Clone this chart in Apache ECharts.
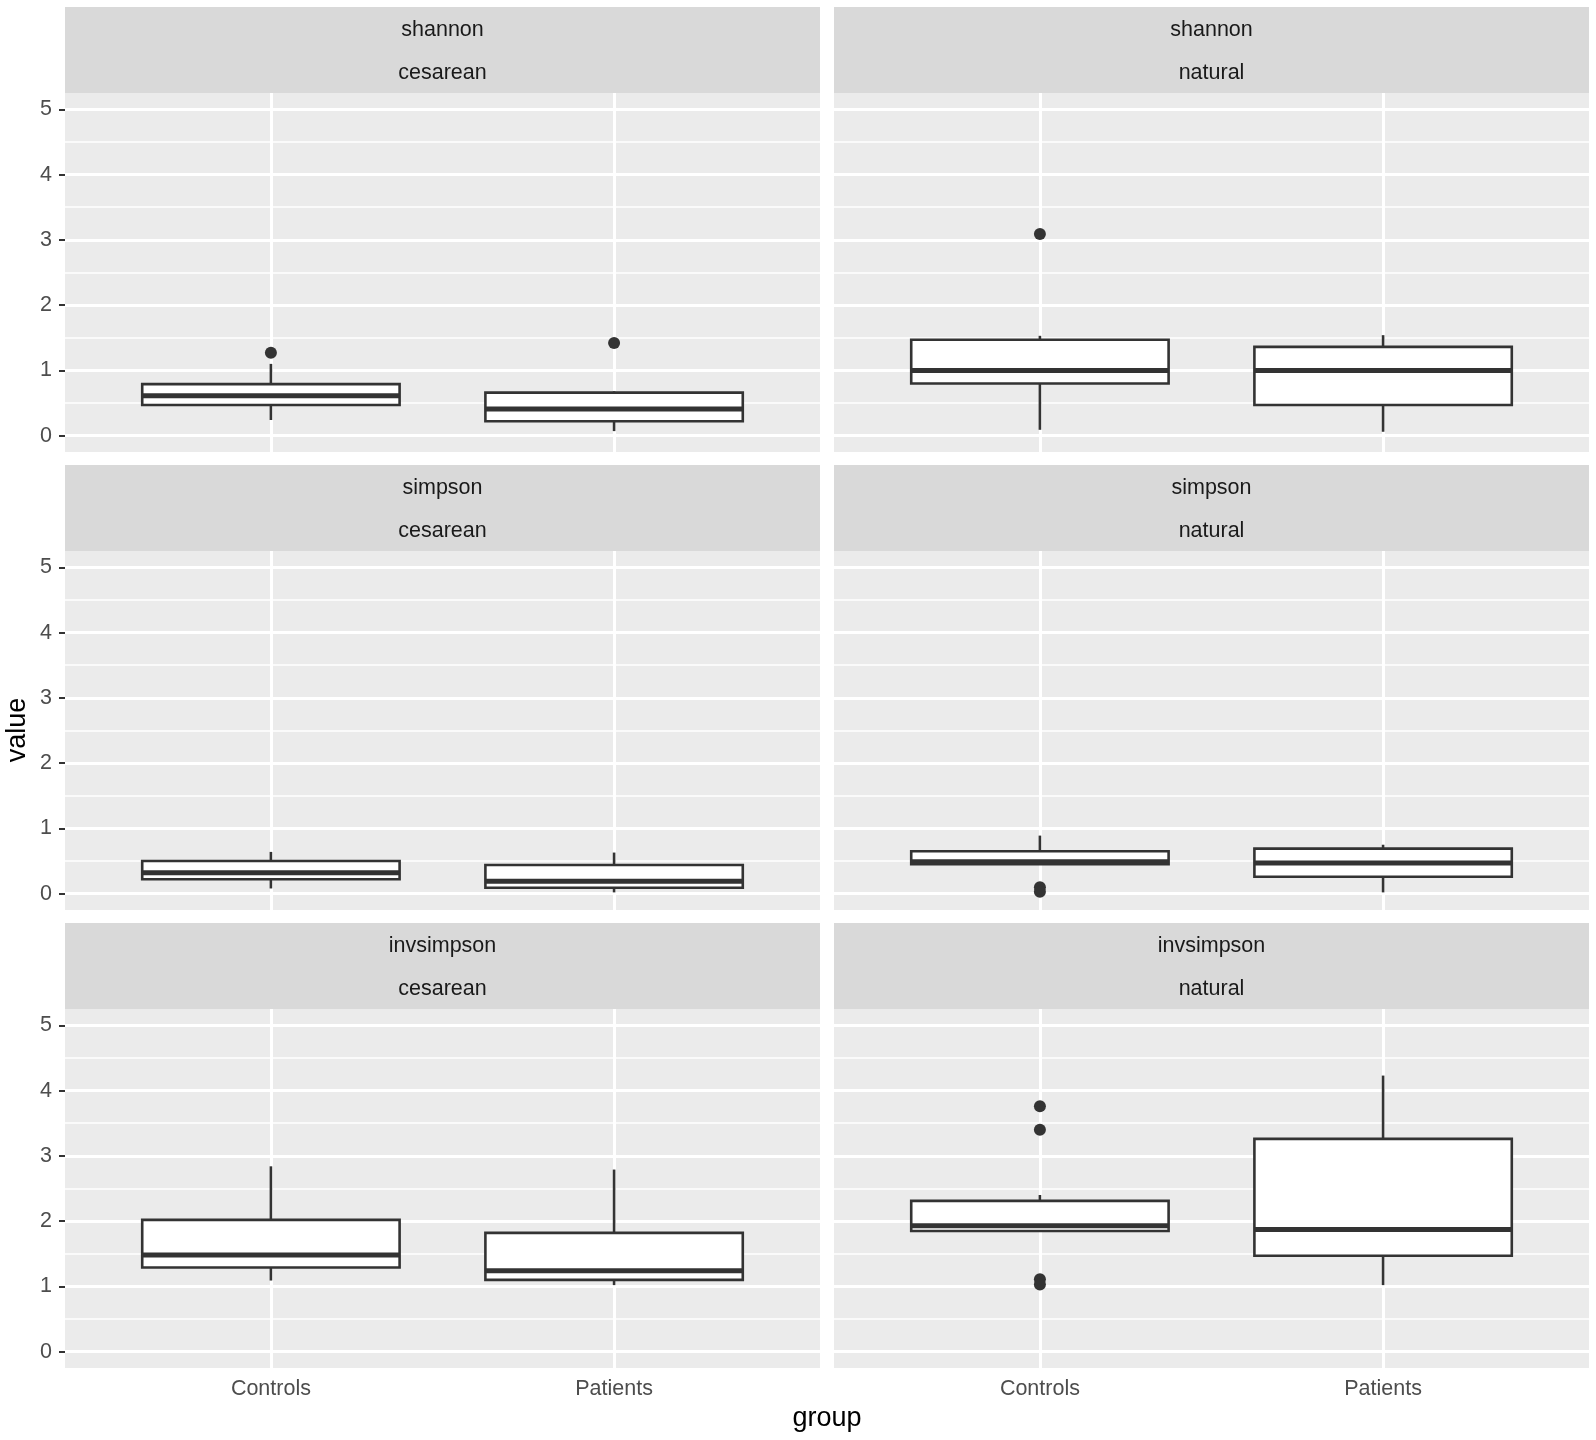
<!DOCTYPE html>
<html>
<head>
<meta charset="utf-8">
<title>alpha diversity</title>
<script src="https://cdn.jsdelivr.net/npm/echarts@6/dist/echarts.min.js"></script>
<style>
html, body { margin: 0; padding: 0; background: #fff; }
#main { width: 1596px; height: 1440px; }
</style>
</head>
<body>
<div id="main"></div>
<script>
// facet labels and categories
var metrics = ['shannon', 'simpson', 'invsimpson'];
var births = ['cesarean', 'natural'];
var groups = ['Controls', 'Patients'];
var yTicks = [0, 1, 2, 3, 4, 5];
var yMinorTicks = [0.5, 1.5, 2.5, 3.5, 4.5];

// box stats: [lower whisker, Q1, median, Q3, upper whisker], Controls then Patients
var shannonCesarean = [[0.24, 0.47, 0.61, 0.79, 1.10], [0.07, 0.22, 0.41, 0.66, 0.68]];
var shannonNatural = [[0.09, 0.80, 1.00, 1.47, 1.53], [0.06, 0.47, 1.00, 1.36, 1.54]];
var simpsonCesarean = [[0.08, 0.22, 0.32, 0.50, 0.64], [0.02, 0.09, 0.19, 0.44, 0.63]];
var simpsonNatural = [[0.45, 0.45, 0.49, 0.65, 0.89], [0.02, 0.26, 0.47, 0.69, 0.75]];
var invsimpsonCesarean = [[1.09, 1.29, 1.48, 2.02, 2.84], [1.02, 1.10, 1.24, 1.82, 2.79]];
var invsimpsonNatural = [[1.85, 1.85, 1.93, 2.31, 2.40], [1.02, 1.47, 1.87, 3.26, 4.23]];

// outliers, Controls then Patients
var shannonCesareanOut = [[1.27], [1.42]];
var shannonNaturalOut = [[3.09], []];
var simpsonCesareanOut = [[], []];
var simpsonNaturalOut = [[0.10, 0.03], []];
var invsimpsonCesareanOut = [[], []];
var invsimpsonNaturalOut = [[3.76, 3.40, 1.11, 1.03], []];

var panels = [
    { row: 0, col: 0, box: shannonCesarean, out: shannonCesareanOut },
    { row: 0, col: 1, box: shannonNatural, out: shannonNaturalOut },
    { row: 1, col: 0, box: simpsonCesarean, out: simpsonCesareanOut },
    { row: 1, col: 1, box: simpsonNatural, out: simpsonNaturalOut },
    { row: 2, col: 0, box: invsimpsonCesarean, out: invsimpsonCesareanOut },
    { row: 2, col: 1, box: invsimpsonNatural, out: invsimpsonNaturalOut }
];

var FONT = '"Liberation Sans", Arial, Helvetica, sans-serif';
var colLeft = [65, 834];
var panelW = 755;
var rowTop = [7, 465, 923];
var stripH = 43;
var panelH = 359;
var boxWidth = 0.75;

var chart = echarts.init(document.getElementById('main'));

// draws one ggplot style box (no whisker caps, thick median)
function renderBox(params, api) {
    var x = api.value(0);
    var lo = api.coord([x, api.value(1)]);
    var q1 = api.coord([x, api.value(2)]);
    var md = api.coord([x, api.value(3)]);
    var q3 = api.coord([x, api.value(4)]);
    var hi = api.coord([x, api.value(5)]);
    var w = api.size([boxWidth, 0])[0];
    var line = { stroke: '#333333', lineWidth: 2.6 };
    return {
        type: 'group',
        children: [
            { type: 'line', shape: { x1: hi[0], y1: hi[1], x2: q3[0], y2: q3[1] }, style: line },
            { type: 'line', shape: { x1: q1[0], y1: q1[1], x2: lo[0], y2: lo[1] }, style: line },
            { type: 'rect', shape: { x: q3[0] - w / 2, y: q3[1], width: w, height: q1[1] - q3[1] },
              style: { fill: '#ffffff', stroke: '#333333', lineWidth: 2.6 } },
            { type: 'line', shape: { x1: md[0] - w / 2, y1: md[1], x2: md[0] + w / 2, y2: md[1] },
              style: { stroke: '#333333', lineWidth: 5 } }
        ]
    };
}

var grids = [], xAxes = [], yAxes = [], series = [], graphics = [];

panels.forEach(function (p, i) {
    var left = colLeft[p.col];
    var top = rowTop[p.row] + stripH * 2;
    var bottomRow = p.row === 2;
    var leftCol = p.col === 0;

    grids.push({
        left: left, top: top, width: panelW, height: panelH,
        show: true, backgroundColor: '#EBEBEB', borderWidth: 0
    });

    xAxes.push({
        type: 'value', gridIndex: i, min: 0.4, max: 2.6,
        axisLine: { show: false },
        splitLine: { show: false },
        axisTick: { show: bottomRow, customValues: [1, 2], length: 6, lineStyle: { color: '#333333', width: 2 } },
        axisLabel: {
            show: bottomRow, customValues: [1, 2], margin: 10,
            fontSize: 21.5, fontFamily: FONT, color: '#4D4D4D',
            formatter: function (v) { return groups[v - 1] || ''; }
        }
    });

    yAxes.push({
        type: 'value', gridIndex: i, min: -0.25, max: 5.25,
        axisLine: { show: false },
        splitLine: { show: false },
        axisTick: { show: leftCol, customValues: yTicks, length: 6, lineStyle: { color: '#333333', width: 2 } },
        axisLabel: {
            show: leftCol, customValues: yTicks, margin: 13,
            fontSize: 21.5, fontFamily: FONT, color: '#4D4D4D',
            formatter: function (v) { return Number.isInteger(v) ? String(v) : ''; }
        }
    });

    // panel grid lines
    var gridLines = [];
    yTicks.forEach(function (v) { gridLines.push({ yAxis: v, lineStyle: { width: 3 } }); });
    yMinorTicks.forEach(function (v) { gridLines.push({ yAxis: v, lineStyle: { width: 1.5 } }); });
    groups.forEach(function (g, j) { gridLines.push({ xAxis: j + 1, lineStyle: { width: 3 } }); });

    series.push({
        type: 'line', xAxisIndex: i, yAxisIndex: i, data: [], z: 1,
        markLine: {
            silent: true, z: 1, symbol: ['none', 'none'], label: { show: false },
            lineStyle: { color: '#ffffff', type: 'solid' },
            data: gridLines
        }
    });

    series.push({
        type: 'custom', xAxisIndex: i, yAxisIndex: i, z: 3,
        renderItem: renderBox,
        encode: { x: 0, y: [1, 2, 3, 4, 5] },
        data: p.box.map(function (b, j) { return [j + 1].concat(b); })
    });

    var outPts = [];
    p.out.forEach(function (vals, j) {
        vals.forEach(function (v) { outPts.push([j + 1, v]); });
    });
    series.push({
        type: 'scatter', xAxisIndex: i, yAxisIndex: i, z: 4,
        symbolSize: 12, itemStyle: { color: '#333333', opacity: 1 },
        data: outPts
    });

    // strips: metric on top, birth mode below
    var texts = [metrics[p.row], births[p.col]];
    texts.forEach(function (t, k) {
        var sy = rowTop[p.row] + stripH * k;
        graphics.push({
            type: 'rect', silent: true,
            shape: { x: left, y: sy, width: panelW, height: stripH },
            style: { fill: '#D9D9D9' }
        });
        graphics.push({
            type: 'text', silent: true, x: left + panelW / 2, y: sy + stripH / 2 + 2,
            style: { text: t, fontSize: 21.5, fontFamily: FONT, fill: '#1A1A1A', align: 'center', verticalAlign: 'middle' }
        });
    });
});

// axis titles
graphics.push({
    type: 'text', silent: true, x: 827, y: 1419,
    style: { text: 'group', fontSize: 27, fontFamily: FONT, fill: '#000000', align: 'center', verticalAlign: 'middle' }
});
graphics.push({
    type: 'text', silent: true, x: 18, y: 730, rotation: Math.PI / 2,
    style: { text: 'value', fontSize: 27, fontFamily: FONT, fill: '#000000', align: 'center', verticalAlign: 'middle' }
});

chart.setOption({
    backgroundColor: '#ffffff',
    animation: false,
    grid: grids,
    xAxis: xAxes,
    yAxis: yAxes,
    series: series,
    graphic: graphics
});
</script>
</body>
</html>
